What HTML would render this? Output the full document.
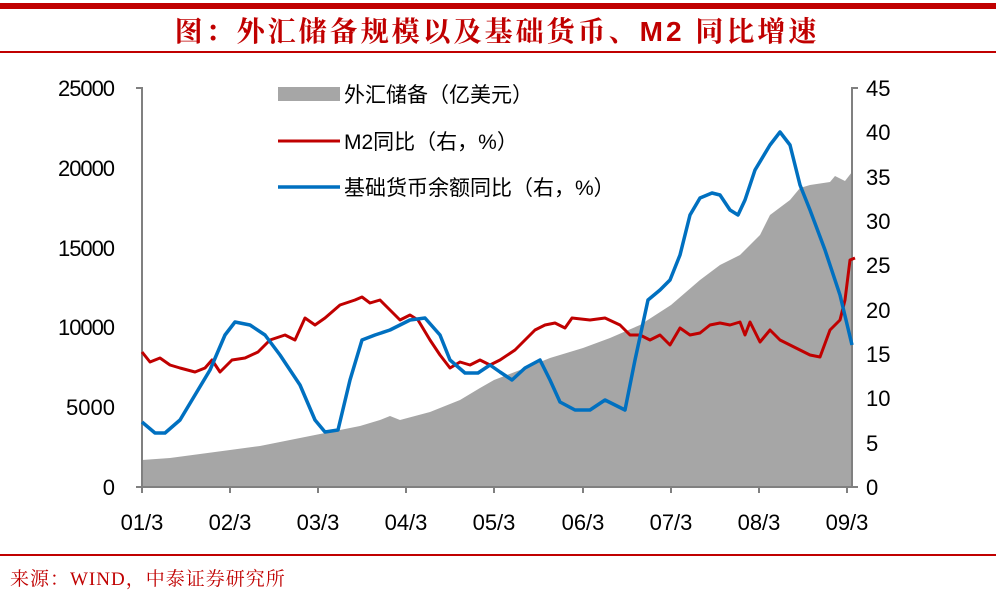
<!DOCTYPE html>
<html><head><meta charset="utf-8"><style>
body{margin:0;background:#fff;}
svg text{font-family:"Liberation Sans","Noto Sans CJK SC",sans-serif;}
</style></head><body>
<svg width="996" height="593" xmlns="http://www.w3.org/2000/svg">
<rect x="0" y="3" width="996" height="6" fill="#c00000"/>
<text x="497" y="41" text-anchor="middle" font-size="28" letter-spacing="3" font-weight="bold" fill="#c00000" style="font-family:'Liberation Sans','Noto Serif CJK SC',serif">图：外汇储备规模以及基础货币、M2 同比增速</text>
<rect x="0" y="51" width="996" height="2" fill="#c00000"/>
<path d="M142,460 L170,458 L200,454 L230,450 L260,446 L290,440 L310,436 L340,430 L360,426 L380,420 L390,416 L400,420 L430,412 L460,400 L480,388 L494,380 L520,370 L550,358 L583,348 L610,338 L640,325 L671,305 L700,280 L720,265 L740,255 L760,235 L770,215 L790,200 L800,188 L810,185 L830,182 L835,176 L845,181 L852,172 L852,487 L142,487 Z" fill="#a6a6a6"/>
<g stroke="#808080" stroke-width="2" fill="none">
<path d="M136,88 H142 V487 H852 V88 H858"/>
<path d="M136,487 H142 M852,487 H858"/>
<path d="M142,487v6M230,487v6M318,487v6M406,487v6M494,487v6M583,487v6M671,487v6M759,487v6M847,487v6"/>
</g>
<path d="M142,352 L150,362 L160,358 L170,365 L180,368 L195,372 L205,368 L212,360 L220,372 L232,360 L245,358 L258,352 L270,340 L285,335 L295,340 L305,318 L315,325 L325,318 L340,305 L355,300 L362,297 L370,303 L380,300 L390,310 L400,320 L410,315 L418,320 L430,340 L440,355 L450,368 L460,362 L470,365 L480,360 L490,365 L500,360 L515,350 L525,340 L535,330 L545,325 L555,323 L565,328 L572,318 L590,320 L605,318 L620,325 L630,335 L640,335 L650,340 L660,335 L670,345 L680,328 L690,335 L700,333 L710,325 L720,323 L730,325 L740,322 L745,335 L750,322 L760,342 L770,330 L780,340 L790,345 L800,350 L810,355 L820,357 L830,330 L840,320 L845,300 L850,260 L855,258" fill="none" stroke="#c00000" stroke-width="3" stroke-linejoin="round"/>
<path d="M142,422 L155,433 L165,433 L180,420 L195,395 L210,370 L225,335 L235,322 L250,325 L265,335 L280,355 L300,385 L315,420 L325,432 L338,430 L350,380 L362,340 L375,335 L390,330 L410,320 L425,318 L440,335 L450,360 L465,373 L478,373 L490,365 L500,372 L512,380 L525,368 L540,360 L550,380 L560,402 L575,410 L590,410 L605,400 L615,405 L625,410 L635,360 L648,300 L660,290 L670,280 L680,255 L690,215 L700,198 L712,193 L720,195 L730,210 L738,215 L745,200 L755,170 L770,145 L780,132 L790,145 L800,185 L810,210 L825,250 L840,295 L852,345" fill="none" stroke="#0070c0" stroke-width="3.5" stroke-linejoin="round"/>
<g font-size="22" fill="#000" text-anchor="end">
<text x="115" y="96" textLength="57">25000</text><text x="115" y="176" textLength="57">20000</text><text x="115" y="256" textLength="57">15000</text><text x="115" y="335" textLength="57">10000</text><text x="115" y="415">5000</text><text x="115" y="495">0</text>
</g>
<g font-size="22" fill="#000" text-anchor="start">
<text x="866" y="96">45</text><text x="866" y="140">40</text><text x="866" y="185">35</text><text x="866" y="229">30</text><text x="866" y="273">25</text><text x="866" y="318">20</text><text x="866" y="362">15</text><text x="866" y="406">10</text><text x="866" y="451">5</text><text x="866" y="495">0</text>
</g>
<g font-size="22" fill="#000" text-anchor="middle">
<text x="142" y="530">01/3</text><text x="230" y="530">02/3</text><text x="318" y="530">03/3</text><text x="406" y="530">04/3</text><text x="494" y="530">05/3</text><text x="583" y="530">06/3</text><text x="671" y="530">07/3</text><text x="759" y="530">08/3</text><text x="847" y="530">09/3</text>
</g>
<rect x="278" y="87" width="62" height="14" fill="#a6a6a6"/>
<text x="344" y="102" font-size="21">外汇储备（亿美元）</text>
<line x1="278" y1="141" x2="340" y2="141" stroke="#c00000" stroke-width="3"/>
<text x="344" y="149" font-size="21">M2同比（右，%）</text>
<line x1="278" y1="187" x2="340" y2="187" stroke="#0070c0" stroke-width="3.5"/>
<text x="344" y="195" font-size="21">基础货币余额同比（右，%）</text>
<rect x="0" y="554" width="996" height="2" fill="#c00000"/>
<text x="10" y="585" font-size="19" letter-spacing="1" fill="#c00000" style="font-family:'Liberation Serif','Noto Serif CJK SC',serif">来源：WIND，中泰证券研究所</text>
</svg>
</body></html>
